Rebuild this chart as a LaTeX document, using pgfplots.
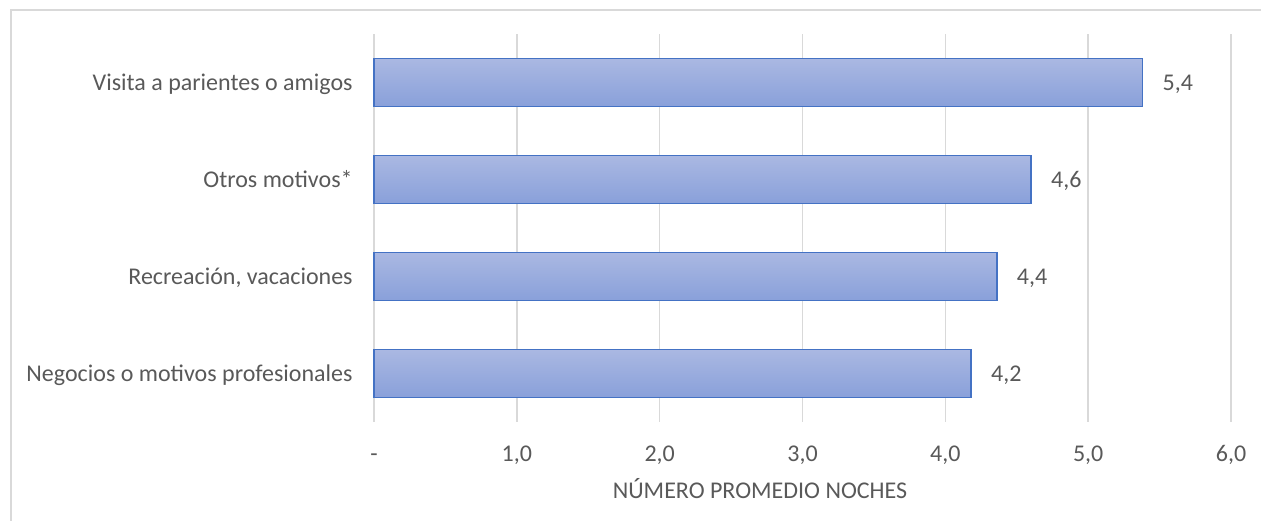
\documentclass[border=0pt]{standalone}
\usepackage{pgfplots}
\pgfplotsset{compat=1.18}
\usepackage{fontspec}
\setmainfont{Carlito}
\definecolor{txt}{HTML}{595959}
\definecolor{gridc}{HTML}{D9D9D9}
\definecolor{barborder}{HTML}{4472C4}
\definecolor{bartop}{RGB}{170,184,226}
\definecolor{barbot}{RGB}{137,160,218}
\tikzset{mybar/.style={draw=barborder, line width=0.75bp, top color=bartop, bottom color=barbot}}
\begin{document}
\begin{tikzpicture}
\useasboundingbox (0bp,0bp) rectangle (630.5bp,260.5bp);
\draw[gridc, line width=0.9bp] (5.5bp,0bp) -- (5.5bp,255.5bp) -- (630.5bp,255.5bp);
\begin{axis}[
  at={(187bp,49.5bp)}, anchor=south west,
  scale only axis, width=428.5bp, height=194bp,
  xmin=0, xmax=6, ymin=0.5, ymax=4.5,
  axis line style={draw=none},
  xbar, bar width=24bp, bar shift=0pt,
  font=\fontsize{12bp}{14.4bp}\selectfont,
  xtick={0,1,2,3,4,5,6},
  xticklabels={-,{1,0},{2,0},{3,0},{4,0},{5,0},{6,0}},
  ytick={1,2,3,4},
  yticklabels={Negocios o motivos profesionales,{Recreación, vacaciones},Otros motivos*,Visita a parientes o amigos},
  major tick length=0pt,
  xmajorgrids, major grid style={gridc, line width=0.75bp},
  xticklabel style={text=txt, anchor=base, inner sep=0pt, yshift=-19.85bp},
  yticklabel style={text=txt, anchor=base east, inner sep=0pt, xshift=-10.5bp, yshift=-3.9bp},
  xlabel={NÚMERO PROMEDIO NOCHES},
  xlabel style={text=txt, at={(axis description cs:0.4504,-0.1966)}, anchor=base, inner sep=0pt},
  nodes near coords={\pgfmathprintnumber[fixed,fixed zerofill,precision=1,use comma,assume math mode=true]{\pgfplotspointmeta}},
  nodes near coords style={text=txt, anchor=base west, inner sep=0pt, xshift=9.7bp, yshift=-3.9bp},
  clip=false,
]
\addplot[mybar] coordinates {(4.18,1)};
\addplot[mybar] coordinates {(4.36,2)};
\addplot[mybar] coordinates {(4.60,3)};
\addplot[mybar] coordinates {(5.38,4)};
\end{axis}
\end{tikzpicture}
\end{document}
